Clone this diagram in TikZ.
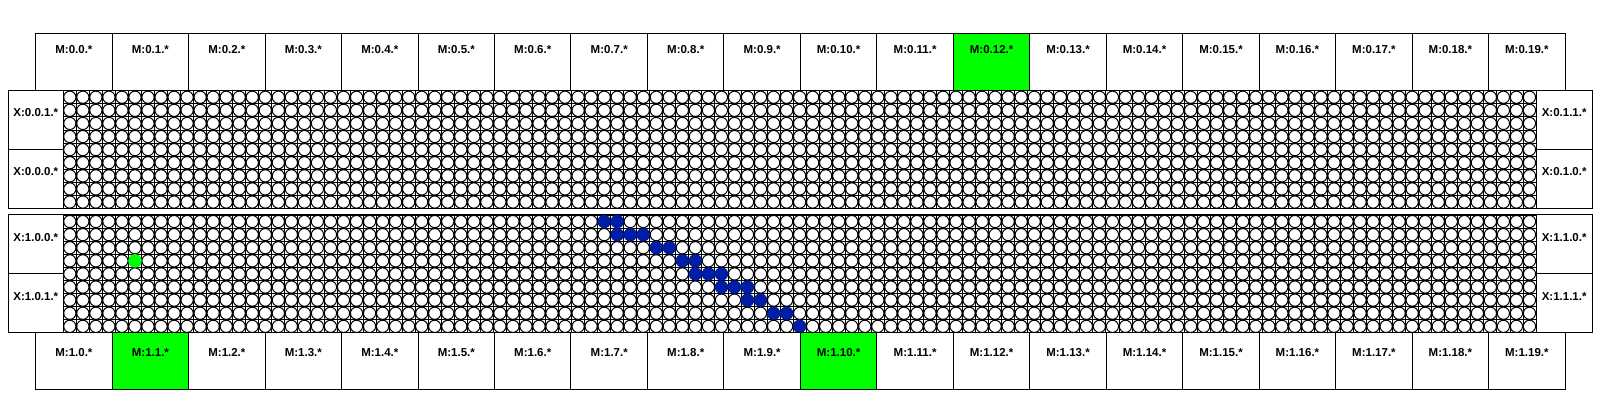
\documentclass[tikz,border=0pt]{standalone}
\usepackage{fontspec}
\setmainfont{Liberation Sans}
\definecolor{hotgreen}{RGB}{0,255,0}
\definecolor{dotblue}{RGB}{0,30,165}
\begin{document}
\begin{tikzpicture}[x=0.5pt,y=-0.5pt,
  boxline/.style={draw=black,line width=0.5pt},
  lbl/.style={font=\bfseries\fontsize{5.75}{6.5}\selectfont,anchor=base,inner sep=0pt},
  cellc/.style={draw=black,fill=white,line width=0.5pt},
  gridk/.style={black,line width=0.45pt},
  bluedot/.style={fill=dotblue},
  greendot/.style={fill=hotgreen},
  ]
\useasboundingbox (0,0) rectangle (1600,400);
\fill[white] (0,0) rectangle (1600,400);
\def\gxa{63.3}\def\gxb{1536}\def\cw{13.0327}\def\ch{13.1}
% ---- grids ----
\foreach \gy/\gn in {90.7/up,215/lo}{
  \foreach \c in {0,...,113}{
    \draw[gridk] ({\gxa+\cw*\c},\gy) -- ({\gxa+\cw*\c},{\gy+9*\ch});
  }
  \foreach \r in {0,...,9}{
    \draw[gridk] (\gxa,{\gy+\ch*\r}) -- (\gxb,{\gy+\ch*\r});
  }
  \path[cellc] \foreach \r in {0,...,8}{\foreach \c in {0,...,112}{
      ({\gxa+\cw*(\c+0.5)},{\gy+\ch*(\r+0.5)}) circle[radius=3.05pt]}};
  \draw[boxline] (\gxa,\gy) rectangle (\gxb,{\gy+9*\ch});
}
% ---- highlighted dots (lower grid) ----
\foreach \r/\c in {0/41,0/42,1/42,1/43,1/44,2/45,2/46,3/47,3/48,4/48,4/49,4/50,5/50,5/51,5/52,6/52,6/53,7/54,7/55,8/56}{
  \path[bluedot] ({\gxa+\cw*(\c+0.5)},{215+\ch*(\r+0.5)}) circle[radius=3.3pt];
}
\path[greendot] ({\gxa+\cw*5.5},{215+\ch*3.5}) circle[radius=3.4pt];
% ---- M boxes ----
\def\mx{35.7}\def\mw{76.47}
\foreach \i in {0,...,19}{
  \pgfmathsetmacro{\xa}{\mx+\mw*\i}
  \pgfmathsetmacro{\xb}{\mx+\mw*(\i+1)}
  \pgfmathsetmacro{\xm}{\mx+\mw*(\i+0.5)}
  \ifnum\i=12 \fill[hotgreen] (\xa,34) rectangle (\xb,90.7);\fi
  \ifnum\i=1 \fill[hotgreen] (\xa,332.9) rectangle (\xb,390);\fi
  \ifnum\i=10 \fill[hotgreen] (\xa,332.9) rectangle (\xb,390);\fi
  \draw[boxline] (\xa,34) rectangle (\xb,90.7);
  \draw[boxline] (\xa,332.9) rectangle (\xb,390);
  \node[lbl] (mt\i) at (\xm,54) {M:0.\i.*};
  \node[lbl] (mb\i) at (\xm,356.3) {M:1.\i.*};
}
% ---- X boxes ----
\foreach \ya/\yb/\tl/\tr/\nm in {90.7/149.65/0.0.1/0.1.1/a, 149.65/208.6/0.0.0/0.1.0/b, 215/273.95/1.0.0/1.1.0/c, 273.95/332.9/1.0.1/1.1.1/d}{
  \draw[boxline] (8.3,\ya) rectangle (\gxa,\yb);
  \draw[boxline] (\gxb,\ya) rectangle (1592.3,\yb);
  \node[lbl] (xl\nm) at ({(8.3+\gxa)/2},{\ya+26.3}) {X:\tl.*};
  \node[lbl] (xr\nm) at ({(\gxb+1592.3)/2},{\ya+26.3}) {X:\tr.*};
}
\end{tikzpicture}
\end{document}
